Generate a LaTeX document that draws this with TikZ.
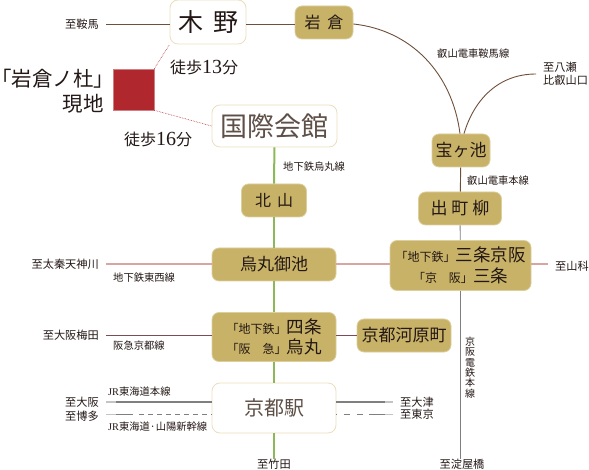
\documentclass[tikz,border=0pt]{standalone}
\usepackage{fontspec}
\setmainfont{Noto Sans CJK JP}
\newfontfamily\latinfont{Liberation Serif}
\newfontfamily\bracketfont[RawFeature=+palt]{Noto Sans CJK JP}
\usetikzlibrary{positioning, calc}
\definecolor{inkgold}{HTML}{C8B267}
\definecolor{inkgoldedge}{HTML}{DCCF9E}
\definecolor{inkpale}{HTML}{EADFBD}
\definecolor{inktext}{HTML}{231815}
\definecolor{inkhall}{HTML}{5E4F47}
\definecolor{inkred}{HTML}{B0282E}
\definecolor{inkbrown}{HTML}{6E4F3A}
\definecolor{inkgreen}{HTML}{8DB85A}
\definecolor{inkpink}{HTML}{D8A6A0}
\definecolor{inkplum}{HTML}{7D4B55}
\definecolor{inkgrey}{HTML}{7F7F7F}
\definecolor{inkfade}{HTML}{C4C4C4}
\newcommand{\fsz}[1]{\fontsize{#1}{#1}\selectfont}
\newcommand{\goldbox}[5]{%
  \node[draw=inkgoldedge, line width=0.8pt, rounded corners=7pt, fill=inkgold,
        minimum width=#3pt, minimum height=#4pt, inner sep=0pt, align=center,
        text=inktext] (#1) at (#2) {#5};}
\newcommand{\whitebox}[5]{%
  \node[draw=inkpale, line width=0.8pt, rounded corners=8pt, fill=white,
        minimum width=#3pt, minimum height=#4pt, inner sep=0pt, align=center] (#1) at (#2) {#5};}
\tikzset{
  endlabel/.style={font=\fsz{11.2}, inner ysep=0pt, inner xsep=7pt, text=inktext, align=left},
  linelabel/.style={font=\fsz{10.3}, inner sep=0pt, text=inktext},
  walklabel/.style={font=\fsz{16}, inner sep=0pt, text=inktext},
  siteline/.style={inkred, line width=0.6pt, densely dotted},
}

\begin{document}
\begin{tikzpicture}[x=1pt, y=-1pt]
  \useasboundingbox (0,0) rectangle (589,470);
  % stations
  \whitebox{kino}{208,22}{76}{44}{\fsz{25}\color{inktext}木\hspace{10pt}野}
  \goldbox{iwakura}{324,22.5}{58}{33}{\fsz{16}岩\hspace{7pt}倉}
  \whitebox{kokusai}{274.5,126}{125}{42}{\fsz{27}\color{inkhall}国際会館}
  \goldbox{takaragaike}{461,150.5}{58}{33}{\fsz{17}宝ヶ池}
  \goldbox{demachi}{460,208.5}{83}{33}{\fsz{17}出\hspace{4pt}町\hspace{4pt}柳}
  \goldbox{kitayama}{274,200.5}{65}{33}{\fsz{16}北\hspace{6pt}山}
  \goldbox{oike}{274,264.5}{124}{33}{\fsz{17}烏丸御池}
  \goldbox{sanjo}{460.5,265.5}{141}{50}{{\fsz{12}「地下鉄」}{\fsz{17.5}三条京阪}\\[3.5pt]{\fsz{12}「京\quad 阪」}{\fsz{17.5}三条}}
  \goldbox{shijo}{274,337}{124}{49}{{\fsz{12}「地下鉄」}{\fsz{17.5}四条}\\[3.5pt]{\fsz{12}「阪\quad 急」}{\fsz{17.5}烏丸}}
  \goldbox{kawaramachi}{404,335.5}{94}{33}{\fsz{17}京都河原町}
  \whitebox{kyoto}{274,408}{124}{50}{\fsz{20}\color{inkhall}京都駅}
  % site
  \node[fill=inkred, draw=inkred!60!white, line width=0.6pt, minimum size=41pt, inner sep=0pt] (site) at (133.5,89.5) {};
  \node[anchor=east, font=\fsz{20.5}, inner sep=0pt, align=right, text=inktext] (sitename) at (104,91)
    {{\bracketfont 「}岩倉ノ杜{\bracketfont 」}\\[5pt]現地};
  \node[walklabel, anchor=west] (walkkino) at (170,67) {徒歩{\latinfont\fsz{20}13}分};
  \node[walklabel, anchor=west] (walkhall) at (124,139) {徒歩{\latinfont\fsz{20}16}分};
  % line ends
  \node[endlabel, anchor=east] (kurama) at (106,24) {至鞍馬};
  \node[endlabel, anchor=east] (uzumasa) at (106,264) {至太秦天神川};
  \node[endlabel, anchor=east] (umeda) at (106,335) {至大阪梅田};
  \node[endlabel, anchor=east] (osaka) at (106,402) {至大阪};
  \node[endlabel, anchor=east] (hakata) at (106,416) {至博多};
  \node[endlabel, anchor=west] (otsu) at (393,402) {至大津};
  \node[endlabel, anchor=west] (tokyo) at (393,414) {至東京};
  \node[endlabel, anchor=west] (yamashina) at (548,266) {至山科};
  \node[endlabel, anchor=west] (yase) at (536,74) {至八瀬\\[2pt]比叡山口};
  \node[font=\fsz{11.2}, inner sep=0pt, text=inktext] (takeda) at (274,464) {至竹田};
  \node[font=\fsz{11.2}, inner sep=0pt, text=inktext] (yodoyabashi) at (462,464) {至淀屋橋};
  % line names
  \node[linelabel, anchor=west] (karasumasen) at (283,167) {地下鉄烏丸線};
  \node[linelabel, anchor=west] (kuramasen) at (437,54) {叡山電車鞍馬線};
  \node[linelabel, anchor=west] (eizansen) at (467,181) {叡山電車本線};
  \node[linelabel, anchor=west] (tozaisen) at (113,278) {地下鉄東西線};
  \node[linelabel, anchor=west] (hankyusen) at (113,346) {阪急京都線};
  \node[linelabel, anchor=west] (jrline) at (108,392) {{\latinfont JR}東海道本線};
  \node[linelabel, anchor=west] (shinkansen) at (108,427) {{\latinfont JR}東海道·山陽新幹線};
  \node[font=\fsz{10}, inner sep=0pt, text=inktext, align=center] (keihansen) at (470,367.5)
    {京\\[0.3pt]阪\\[0.3pt]電\\[0.3pt]鉄\\[0.3pt]本\\[0.3pt]線};
  % walking routes
  \draw[siteline] (site.north east) -- (kino.south west);
  \draw[siteline] (site.south east) -- (kokusai.west);
  % eizan
  \draw[inkbrown, line width=0.9pt] (kurama.east) -- (kurama.east -| kino.west);
  \draw[inkbrown, line width=0.9pt] (kino.east |- kurama.east) -- (iwakura.west |- kurama.east);
  \draw[inkbrown, line width=0.9pt] (iwakura.east |- kurama.east) .. controls (410,30) and (452,72) .. ([xshift=-1pt]takaragaike.north);
  \draw[inkbrown, line width=0.9pt] ([xshift=3pt]takaragaike.north) .. controls (474,100) and (498,74) .. (yase.west);
  \draw[inkbrown, line width=0.9pt] (takaragaike) -- (demachi);
  % keihan
  \draw[inkgrey, line width=0.9pt] (demachi) -- (sanjo);
  \draw[inkgrey, line width=0.9pt] (sanjo.south -| demachi) -- (yodoyabashi.north -| demachi);
  % karasuma
  \draw[inkgreen, line width=2pt] (kokusai) -- (kitayama);
  \draw[inkgreen, line width=2pt] (kitayama) -- (oike);
  \draw[inkgreen, line width=2pt] (oike) -- (shijo);
  \draw[inkgreen, line width=2pt] (shijo) -- (kyoto);
  \draw[inkgreen, line width=2pt] (kyoto) -- (takeda.north);
  % tozai
  \draw[inkpink, line width=2pt] (uzumasa.east |- oike.east) -- (oike.west);
  \draw[inkpink, line width=2pt] (oike.east) -- (sanjo.west |- oike.east);
  \draw[inkpink, line width=2pt] (sanjo.east |- oike.east) -- (yamashina.west |- oike.east);
  % hankyu
  \draw[inkplum, line width=0.9pt] (umeda.east) -- (umeda.east -| shijo.west);
  \draw[inkplum, line width=0.9pt] (shijo.east |- kawaramachi) -- (kawaramachi);
  % jr
  \draw[inkgrey, line width=1.5pt] (osaka.east) -- (osaka.east -| kyoto.west);
  \draw[inkgrey, line width=1.5pt] (kyoto.east |- otsu.west) -- (otsu.west);
  \draw[inkfade, line width=1.5pt] (osaka.east) -- ++(10,0);
  \draw[inkfade, line width=1.5pt] (otsu.west) -- ++(-8,0);
  \coordinate (bulletleft) at (hakata.east |- tokyo.west);
  \draw[inkgrey, line width=0.9pt, dash pattern=on 27pt off 6pt on 5pt off 4pt on 5pt off 4pt on 5pt off 4pt on 5pt off 4pt on 5pt off 4pt on 5pt off 4pt on 5pt off 4pt on 5pt off 4pt]
    (bulletleft) -- (bulletleft -| kyoto.west);
  \draw[inkgrey, line width=0.9pt, dash pattern=on 1pt off 7pt on 6pt off 7pt on 6pt off 6pt on 24pt] (kyoto.east |- tokyo.west) -- (tokyo.west);
  \draw[inkfade, line width=0.9pt] (bulletleft) -- ++(10,0);
  \draw[inkfade, line width=0.9pt] (tokyo.west) -- ++(-8,0);
\end{tikzpicture}
\end{document}
